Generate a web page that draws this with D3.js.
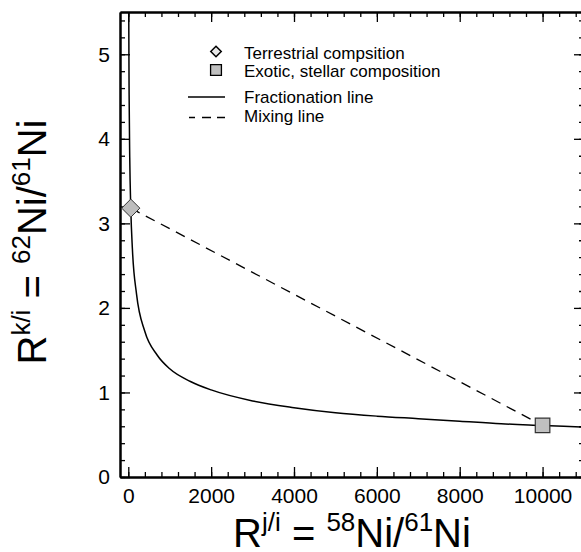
<!DOCTYPE html>
<html>
<head>
<meta charset="utf-8">
<title>Ni isotope ratios</title>
<script src="https://cdnjs.cloudflare.com/ajax/libs/d3/7.8.5/d3.min.js"></script>
<style>
    body { margin:0; background:white; }
    svg { display:block; overflow:hidden; }
    text { font-family:"Liberation Sans", Arial, Helvetica, sans-serif; fill:black; }
    .axis path, .axis line { stroke:black; }
    .axis path { stroke-width:2; }
    .axis line { stroke-width:1.3; }
</style>
</head>
<body>
<div id="chart"></div>
<script>
// fractionation line
var fracX = [8, 11, 20, 35, 60, 100, 200, 400, 700, 1000, 1500, 2000, 3000, 4000, 5000, 6000, 7000, 8000, 9000, 10000, 11000];
var fracY = [6.07, 5.5, 4.52, 3.78, 3.18, 2.69, 2.16, 1.72, 1.44, 1.28, 1.13, 1.03, 0.90, 0.82, 0.76, 0.72, 0.69, 0.66, 0.63, 0.61, 0.59];

// the two compositions (also the ends of the mixing line)
var terrestrial = [60, 3.18];
var exotic = [10000, 0.61];

var xTicks = [0, 2000, 4000, 6000, 8000, 10000];
var yTicks = [0, 1, 2, 3, 4, 5];
var legendLabels = ['Terrestrial compsition', 'Exotic, stellar composition', 'Fractionation line', 'Mixing line'];

var W = 581, H = 552;
var mLeft = 120, mRight = 584, mTop = 12, mBottom = 477;

var svg = d3.select('#chart').append('svg')
    .attr('width', W)
    .attr('height', H);

var x = d3.scaleLinear().domain([-200, 11000]).range([mLeft, mRight]);
var y = d3.scaleLinear().domain([0, 5.5]).range([mBottom, mTop]);

var xMinor = d3.range(0, 11001, 400);
var yMinor = d3.range(0, 5.5, 0.2);

// clip for the curves
svg.append('clipPath').attr('id', 'plot-clip')
    .append('rect')
    .attr('x', mLeft).attr('y', mTop)
    .attr('width', mRight - mLeft).attr('height', mBottom - mTop);

var plot = svg.append('g').attr('clip-path', 'url(#plot-clip)');

var line = d3.line()
    .x(function(d) { return x(d[0]); })
    .y(function(d) { return y(d[1]); });

var fracData = fracX.map(function(v, i) { return [v, fracY[i]]; });

plot.append('path')
    .datum(fracData)
    .attr('d', line.curve(d3.curveMonotoneX))
    .attr('fill', 'none')
    .attr('stroke', 'black')
    .attr('stroke-width', 1.5);

plot.append('path')
    .datum([terrestrial, exotic])
    .attr('d', d3.line().x(function(d) { return x(d[0]); }).y(function(d) { return y(d[1]); }))
    .attr('fill', 'none')
    .attr('stroke', 'black')
    .attr('stroke-width', 1.3)
    .attr('stroke-dasharray', '10,7');

// axes: ticks point inwards
function drawAxis(axis, tx, ty) {
    return svg.append('g')
        .attr('class', 'axis')
        .attr('transform', 'translate(' + tx + ',' + ty + ')')
        .call(axis);
}

drawAxis(d3.axisBottom(x).tickValues(xMinor).tickSize(-5).tickSizeOuter(0).tickFormat(''), 0, mBottom);
drawAxis(d3.axisTop(x).tickValues(xMinor).tickSize(-5).tickSizeOuter(0).tickFormat(''), 0, mTop);
drawAxis(d3.axisLeft(y).tickValues(yMinor).tickSize(-5).tickSizeOuter(0).tickFormat(''), mLeft, 0);
drawAxis(d3.axisRight(y).tickValues(yMinor).tickSize(-5).tickSizeOuter(0).tickFormat(''), mRight, 0);

drawAxis(d3.axisBottom(x).tickValues(xTicks).tickSize(-10).tickSizeOuter(0).tickPadding(11).tickFormat(d3.format('d')), 0, mBottom);
drawAxis(d3.axisTop(x).tickValues(xTicks).tickSize(-10).tickSizeOuter(0).tickFormat(''), 0, mTop);
drawAxis(d3.axisLeft(y).tickValues(yTicks).tickSize(-10).tickSizeOuter(0).tickPadding(10).tickFormat(d3.format('d')), mLeft, 0);
drawAxis(d3.axisRight(y).tickValues(yTicks).tickSize(-10).tickSizeOuter(0).tickFormat(''), mRight, 0);

svg.selectAll('.axis text')
    .attr('font-size', 21)
    .attr('font-family', '"Liberation Sans", Arial, sans-serif');

// markers
svg.append('path')
    .attr('d', d3.symbol().type(d3.symbolSquare2).size(270)())
    .attr('transform', 'translate(' + x(exotic[0]) + ',' + y(exotic[1]) + ')')
    .attr('fill', '#c0c0c0')
    .attr('stroke', '#333')
    .attr('stroke-width', 1.2);

svg.append('path')
    .attr('d', d3.symbol().type(d3.symbolDiamond2).size(210)())
    .attr('transform', 'translate(' + x(terrestrial[0]) + ',' + y(terrestrial[1]) + ')')
    .attr('fill', '#bdbdbd')
    .attr('stroke', '#333')
    .attr('stroke-width', 1);

// legend
var lg = svg.append('g');
var symRows = [51.5, 70, 97, 117.5];
var textRows = [59, 77, 102.5, 121.5];

lg.append('path')
    .attr('d', d3.symbol().type(d3.symbolDiamond2).size(70)())
    .attr('transform', 'translate(216,' + symRows[0] + ')')
    .attr('fill', '#e8e8e8').attr('stroke', 'black').attr('stroke-width', 1.5);
lg.append('path')
    .attr('d', d3.symbol().type(d3.symbolSquare2).size(150)())
    .attr('transform', 'translate(216,' + symRows[1] + ')')
    .attr('fill', '#c0c0c0').attr('stroke', 'black').attr('stroke-width', 1.3);
lg.append('line')
    .attr('x1', 188).attr('x2', 225).attr('y1', symRows[2]).attr('y2', symRows[2])
    .attr('stroke', 'black').attr('stroke-width', 1.3);
lg.append('line')
    .attr('x1', 189).attr('x2', 225).attr('y1', symRows[3]).attr('y2', symRows[3])
    .attr('stroke', 'black').attr('stroke-width', 1.3)
    .attr('stroke-dasharray', '6,7,9,6,8');

lg.selectAll('text.leg')
    .data(legendLabels)
    .enter().append('text')
    .attr('class', 'leg')
    .attr('x', 244)
    .attr('y', function(d, i) { return textRows[i]; })
    .attr('font-size', 17)
    .text(function(d) { return d; });

// axis titles with superscripts
function title(g, parts) {
    var t = g.append('text').attr('text-anchor', 'middle').attr('font-size', 40);
    parts.forEach(function(p) {
        t.append('tspan')
            .attr('font-size', p[1] ? 26 : 40)
            .attr('dy', p[1] ? -16 : (p[2] ? 16 : 0))
            .text(p[0]);
    });
    return t;
}

title(svg.append('g').attr('transform', 'translate(352,547)'),
    [['R'], ['j/i', 1], ['\u00a0=\u00a0', 0, 1], ['58', 1], ['Ni/', 0, 1], ['61', 1], ['Ni', 0, 1]]);

title(svg.append('g').attr('transform', 'translate(46,242) rotate(-90)'),
    [['R'], ['k/i', 1], ['\u00a0=\u00a0', 0, 1], ['62', 1], ['Ni/', 0, 1], ['61', 1], ['Ni', 0, 1]]);
</script>
</body>
</html>
